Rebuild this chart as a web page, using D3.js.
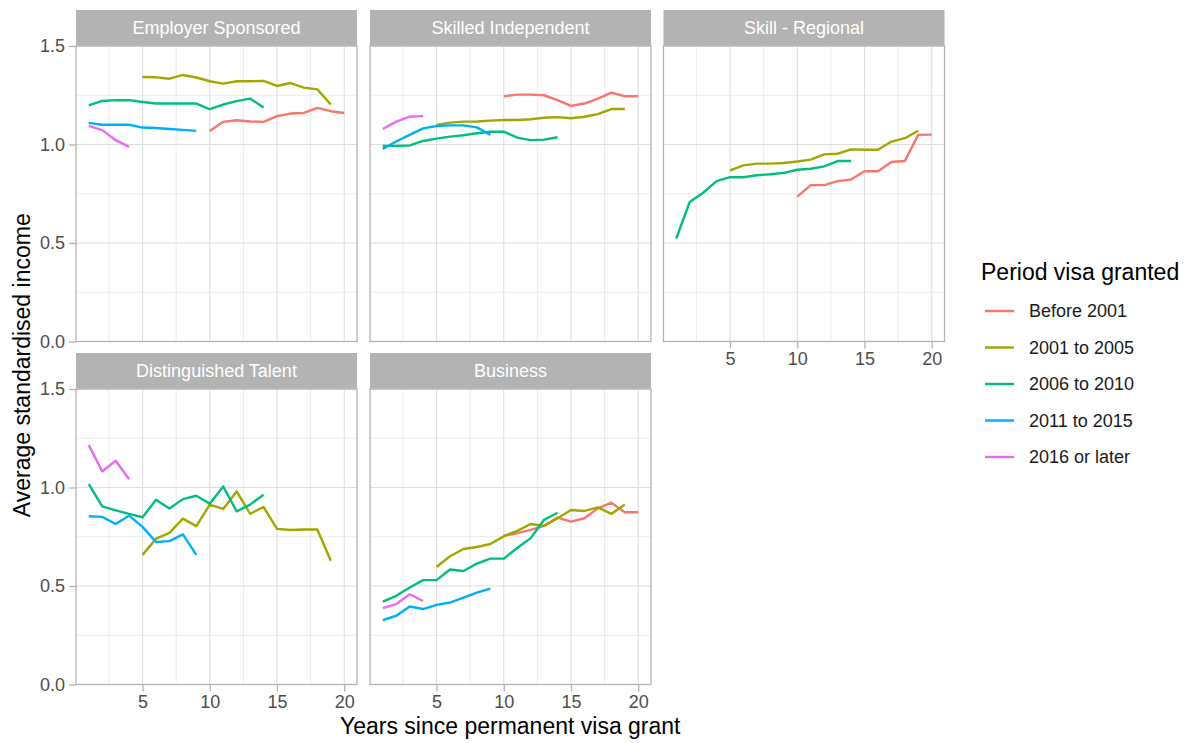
<!DOCTYPE html>
<html>
<head>
<meta charset="utf-8">
<script src="https://cdn.jsdelivr.net/npm/d3@7"></script>
<style>
  body { margin: 0; background: #fff; }
  svg { font-family: "Liberation Sans", Arial, sans-serif; }
</style>
</head>
<body>
<svg id="chart" width="1192" height="743"></svg>
<script>
// Facets and periods
var facets = ["Employer Sponsored", "Skilled Independent", "Skill - Regional", "Distinguished Talent", "Business"];
var periods = ["Before 2001", "2001 to 2005", "2006 to 2010", "2011 to 2015", "2016 or later"];
var palette = ["#F8766D", "#A3A500", "#00BF7D", "#00B0F6", "#E76BF3"];

var xTicks = [5, 10, 15, 20];
var yTicks = [0, 0.5, 1.0, 1.5];

// each series: period, first year, values year by year
var employerSponsored = [
    {period: "Before 2001", start: 10, values: [1.069, 1.115, 1.123, 1.117, 1.115, 1.144, 1.157, 1.160, 1.186, 1.169, 1.160]},
    {period: "2001 to 2005", start: 5, values: [1.343, 1.341, 1.334, 1.353, 1.340, 1.321, 1.309, 1.321, 1.321, 1.323, 1.297, 1.312, 1.289, 1.280, 1.203]},
    {period: "2006 to 2010", start: 1, values: [1.199, 1.221, 1.225, 1.225, 1.216, 1.208, 1.208, 1.208, 1.208, 1.179, 1.203, 1.220, 1.233, 1.188]},
    {period: "2011 to 2015", start: 1, values: [1.110, 1.100, 1.100, 1.100, 1.086, 1.084, 1.079, 1.074, 1.069]},
    {period: "2016 or later", start: 1, values: [1.095, 1.073, 1.022, 0.988]}
];
var skilledIndependent = [
    {period: "Before 2001", start: 10, values: [1.245, 1.253, 1.253, 1.250, 1.225, 1.196, 1.208, 1.233, 1.263, 1.245, 1.245]},
    {period: "2001 to 2005", start: 5, values: [1.099, 1.111, 1.116, 1.117, 1.121, 1.124, 1.124, 1.128, 1.136, 1.139, 1.133, 1.141, 1.154, 1.180, 1.180]},
    {period: "2006 to 2010", start: 1, values: [0.993, 0.993, 0.995, 1.018, 1.030, 1.040, 1.047, 1.057, 1.065, 1.065, 1.035, 1.022, 1.025, 1.037]},
    {period: "2011 to 2015", start: 1, values: [0.978, 1.015, 1.049, 1.082, 1.094, 1.097, 1.097, 1.087, 1.049]},
    {period: "2016 or later", start: 1, values: [1.079, 1.116, 1.141, 1.144]}
];
var skillRegional = [
    {period: "Before 2001", start: 10, values: [0.735, 0.794, 0.794, 0.814, 0.822, 0.864, 0.864, 0.911, 0.916, 1.049, 1.050]},
    {period: "2001 to 2005", start: 5, values: [0.869, 0.894, 0.903, 0.903, 0.906, 0.914, 0.923, 0.950, 0.953, 0.975, 0.973, 0.973, 1.015, 1.032, 1.070]},
    {period: "2006 to 2010", start: 1, values: [0.523, 0.708, 0.755, 0.814, 0.834, 0.834, 0.844, 0.849, 0.856, 0.872, 0.877, 0.889, 0.916, 0.916]}
];
var distinguishedTalent = [
    {period: "2001 to 2005", start: 5, values: [0.658, 0.740, 0.770, 0.842, 0.804, 0.913, 0.891, 0.980, 0.867, 0.901, 0.790, 0.784, 0.787, 0.787, 0.628]},
    {period: "2006 to 2010", start: 1, values: [1.017, 0.904, 0.884, 0.866, 0.849, 0.938, 0.893, 0.941, 0.958, 0.918, 1.005, 0.879, 0.913, 0.963]},
    {period: "2011 to 2015", start: 1, values: [0.854, 0.851, 0.815, 0.857, 0.800, 0.723, 0.728, 0.762, 0.658]},
    {period: "2016 or later", start: 1, values: [1.215, 1.081, 1.136, 1.042]}
];
var business = [
    {period: "Before 2001", start: 10, values: [0.755, 0.768, 0.785, 0.805, 0.847, 0.827, 0.844, 0.894, 0.923, 0.874, 0.874]},
    {period: "2001 to 2005", start: 5, values: [0.597, 0.651, 0.688, 0.698, 0.713, 0.752, 0.780, 0.815, 0.805, 0.844, 0.886, 0.881, 0.899, 0.866, 0.914]},
    {period: "2006 to 2010", start: 1, values: [0.421, 0.450, 0.492, 0.530, 0.530, 0.584, 0.576, 0.614, 0.639, 0.639, 0.693, 0.743, 0.836, 0.872]},
    {period: "2011 to 2015", start: 1, values: [0.327, 0.349, 0.396, 0.383, 0.404, 0.416, 0.441, 0.466, 0.487]},
    {period: "2016 or later", start: 1, values: [0.388, 0.408, 0.458, 0.424]}
];

var facetSeries = [employerSponsored, skilledIndependent, skillRegional, distinguishedTalent, business];

// Layout
var panelW = 281, panelH = 295.5, stripH = 36;
var colX = [76, 370, 663.5];
var rowTop = [10, 353];
var gridCol = "#DEDEDE", frameCol = "#B3B3B3", textCol = "#4D4D4D";

var svg = d3.select("#chart");
var color = d3.scaleOrdinal().domain(periods).range(palette);

var x = d3.scaleLinear().domain([0.05, 20.95]).range([0, panelW]);
var y = d3.scaleLinear().domain([0, 1.5]).range([panelH, 0]);

var line = d3.line()
    .x(function (d) { return x(d[0]); })
    .y(function (d) { return y(d[1]); });

facets.forEach(function (name, i) {
    var col = i % 3, row = Math.floor(i / 3);
    var left = colX[col], top = rowTop[row] + stripH;

    // strip
    svg.append("rect")
        .attr("x", left).attr("y", rowTop[row])
        .attr("width", panelW).attr("height", stripH)
        .attr("fill", "#B3B3B3");
    svg.append("text")
        .attr("x", left + panelW / 2).attr("y", rowTop[row] + stripH / 2)
        .attr("dy", "0.35em")
        .attr("text-anchor", "middle")
        .attr("fill", "#fff")
        .attr("font-size", 18)
        .text(name);

    var g = svg.append("g").attr("transform", "translate(" + left + "," + top + ")");

    // minor grid
    g.selectAll(".gxm").data([2.5, 7.5, 12.5, 17.5]).enter().append("line")
        .attr("x1", x).attr("x2", x).attr("y1", 0).attr("y2", panelH)
        .attr("stroke", gridCol).attr("stroke-width", 0.6);
    g.selectAll(".gym").data([0.25, 0.75, 1.25]).enter().append("line")
        .attr("y1", y).attr("y2", y).attr("x1", 0).attr("x2", panelW)
        .attr("stroke", gridCol).attr("stroke-width", 0.6);
    // major grid
    g.selectAll(".gx").data(xTicks).enter().append("line")
        .attr("x1", x).attr("x2", x).attr("y1", 0).attr("y2", panelH)
        .attr("stroke", gridCol).attr("stroke-width", 1.1);
    g.selectAll(".gy").data(yTicks).enter().append("line")
        .attr("y1", y).attr("y2", y).attr("x1", 0).attr("x2", panelW)
        .attr("stroke", gridCol).attr("stroke-width", 1.1);

    // lines
    facetSeries[i].forEach(function (s) {
        var pts = s.values.map(function (v, k) { return [s.start + k, v]; });
        g.append("path")
            .datum(pts)
            .attr("d", line)
            .attr("fill", "none")
            .attr("stroke", color(s.period))
            .attr("stroke-width", 2.4)
            .attr("stroke-linejoin", "round");
    });

    // border
    g.append("rect")
        .attr("width", panelW).attr("height", panelH)
        .attr("fill", "none").attr("stroke", frameCol).attr("stroke-width", 1.3);

    // y axis on first column
    if (col === 0) {
        var ya = g.append("g").call(d3.axisLeft(y).tickValues(yTicks).tickFormat(d3.format(".1f")).tickSize(7).tickPadding(4));
        styleAxis(ya);
    }
    // x axis where nothing sits below
    if (row === 1 || col === 2) {
        var xa = g.append("g").attr("transform", "translate(0," + panelH + ")")
            .call(d3.axisBottom(x).tickValues(xTicks).tickSize(7).tickPadding(4));
        styleAxis(xa);
    }
});

function styleAxis(a) {
    a.select(".domain").remove();
    a.selectAll(".tick line").attr("stroke", frameCol).attr("stroke-width", 1.3);
    a.selectAll(".tick text").attr("fill", textCol).attr("font-size", 18)
        .attr("font-family", "Liberation Sans, Arial, sans-serif");
}

// axis titles
svg.append("text")
    .attr("x", (colX[0] + colX[2] + panelW) / 2).attr("y", 734)
    .attr("text-anchor", "middle")
    .attr("font-size", 23)
    .text("Years since permanent visa grant");

svg.append("text")
    .attr("transform", "translate(30," + (rowTop[0] + stripH + rowTop[1] + stripH + panelH) / 2 + ") rotate(-90)")
    .attr("text-anchor", "middle")
    .attr("font-size", 23)
    .text("Average standardised income");

// legend
var legend = svg.append("g").attr("transform", "translate(981,0)");
legend.append("text")
    .attr("x", 0).attr("y", 280)
    .attr("font-size", 23)
    .text("Period visa granted");

periods.forEach(function (p, i) {
    var cy = 311 + i * 36.5;
    legend.append("line")
        .attr("x1", 4).attr("x2", 33).attr("y1", cy).attr("y2", cy)
        .attr("stroke", color(p)).attr("stroke-width", 2.4);
    legend.append("text")
        .attr("x", 48).attr("y", cy).attr("dy", "0.35em")
        .attr("font-size", 18)
        .attr("fill", "#1a1a1a")
        .text(p);
});
</script>
</body>
</html>
